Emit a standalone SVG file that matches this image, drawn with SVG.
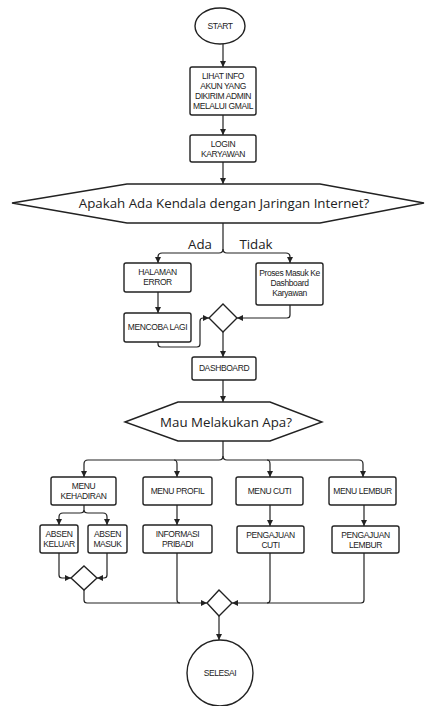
<svg xmlns="http://www.w3.org/2000/svg" width="425" height="706" viewBox="0 0 425 706">
<defs>
<marker id="arr" viewBox="0 0 10 10" refX="10" refY="5" markerWidth="6" markerHeight="6" markerUnits="userSpaceOnUse" orient="auto"><path d="M0,0 L10,5 L0,10 z" fill="#222"/></marker>
<style>
.b{fill:#fff;stroke:#222;stroke-width:1.4}
.t{font-family:"Liberation Sans",Arial,sans-serif;font-size:8.5px;fill:#222;text-anchor:middle;letter-spacing:-0.4px}
.d{font-family:"Open Sans","Noto Sans",sans-serif;font-size:13.3px;fill:#222;text-anchor:middle}
.c{fill:none;stroke:#222;stroke-width:1.2;marker-end:url(#arr)}
.n{fill:none;stroke:#222;stroke-width:1.2}
</style>
</defs>
<rect width="425" height="706" fill="#fff"/>
<g id="connectors">
<path class="c" d="M223,44 V67"/>
<path class="c" d="M223,115 V135"/>
<path class="c" d="M223,162 V184"/>
<path class="c" d="M223,223 V249 Q223,253 219,253 H162 Q158,253 158,257 V263"/>
<path class="c" d="M223,249 Q223,253 227,253 H286 Q290,253 290,257 V263"/>
<path class="c" d="M158,292 V313"/>
<path class="c" d="M158,342 V344 Q158,347 161,347 H197 Q200,347 200,344 V321 Q200,318 203,318 H209"/>
<path class="c" d="M290,305 V315 Q290,318 287,318 H237"/>
<path class="c" d="M223,332 V357"/>
<path class="c" d="M223,380 V402"/>
<path class="c" d="M223,441 V456 Q223,460 219,460 H88 Q84,460 84,464 V477"/>
<path class="c" d="M223,456 Q223,460 227,460 H359 Q363,460 363,464 V477"/>
<path class="c" d="M174,460 Q177,460 177,464 V477"/>
<path class="c" d="M267,460 Q270,460 270,464 V477"/>
<path class="c" d="M84,505 V510 Q84,513 80,513 H63 Q59,513 59,517 V525"/>
<path class="c" d="M84,510 Q84,513 88,513 H103 Q107,513 107,517 V525"/>
<path class="c" d="M177,505 V525"/>
<path class="c" d="M270,505 V526"/>
<path class="c" d="M364,505 V526"/>
<path class="c" d="M59,553 V575 Q59,578 62,578 H71"/>
<path class="c" d="M107,553 V575 Q107,578 104,578 H97"/>
<path class="c" d="M84,590 V600 Q84,603 87,603 H207"/>
<path class="n" d="M177,553 V600 Q177,603 180,603"/>
<path class="c" d="M270,553 V600 Q270,603 267,603 H232"/>
<path class="n" d="M364,553 V600 Q364,603 361,603 H267"/>
<path class="c" d="M219,616 V640"/>
</g>
<g id="start"><ellipse class="b" cx="220" cy="26" rx="25" ry="18"/><text class="t" x="220" y="29">START</text></g>
<g id="lihat"><rect class="b" x="190" y="67" width="66" height="48" rx="2"/><text class="t" x="223" y="79">LIHAT INFO</text><text class="t" x="223" y="89">AKUN YANG</text><text class="t" x="223" y="99">DIKIRIM ADMIN</text><text class="t" x="223" y="109">MELALUI GMAIL</text></g>
<g id="login"><rect class="b" x="190" y="135" width="66" height="27" rx="2"/><text class="t" x="223" y="147">LOGIN</text><text class="t" x="223" y="157">KARYAWAN</text></g>
<g id="kendala"><polygon class="b" points="12,203 127,184 320,184 424,203 320,223 127,223"/><text class="d" x="224" y="207.5">Apakah Ada Kendala dengan Jaringan Internet?</text></g>
<g id="labels"><text class="d" x="200" y="249">Ada</text><text class="d" x="256" y="249">Tidak</text></g>
<g id="error"><rect class="b" x="124" y="263" width="67" height="29" rx="2"/><text class="t" x="157.5" y="275">HALAMAN</text><text class="t" x="157.5" y="285">ERROR</text></g>
<g id="proses"><rect class="b" x="256" y="263" width="67" height="42" rx="2"/><text class="t" x="289.5" y="276">Proses Masuk Ke</text><text class="t" x="289.5" y="286">Dashboard</text><text class="t" x="289.5" y="296">Karyawan</text></g>
<g id="mencoba"><rect class="b" x="124" y="313" width="67" height="29" rx="2"/><text class="t" x="157.5" y="330">MENCOBA LAGI</text></g>
<g id="merge1"><polygon class="b" points="223,304 237,318 223,332 209,318"/></g>
<g id="dashboard"><rect class="b" x="192" y="357" width="64" height="23" rx="2"/><text class="t" x="224" y="371">DASHBOARD</text></g>
<g id="mau"><polygon class="b" points="125,422 178,402 270,402 322,422 270,441 178,441"/><text class="d" x="226" y="426.5">Mau Melakukan Apa?</text></g>
<g id="kehadiran"><rect class="b" x="51" y="477" width="65" height="28" rx="2"/><text class="t" x="83.5" y="489">MENU</text><text class="t" x="83.5" y="499">KEHADIRAN</text></g>
<g id="profil"><rect class="b" x="143" y="477" width="69" height="28" rx="2"/><text class="t" x="177.5" y="494">MENU PROFIL</text></g>
<g id="cuti"><rect class="b" x="236" y="477" width="67" height="28" rx="2"/><text class="t" x="269.5" y="494">MENU CUTI</text></g>
<g id="lembur"><rect class="b" x="329" y="477" width="67" height="28" rx="2"/><text class="t" x="362.5" y="494">MENU LEMBUR</text></g>
<g id="keluar"><rect class="b" x="40" y="525" width="38" height="28" rx="2"/><text class="t" x="59" y="537">ABSEN</text><text class="t" x="59" y="547">KELUAR</text></g>
<g id="masuk"><rect class="b" x="88" y="525" width="39" height="28" rx="2"/><text class="t" x="107.5" y="537">ABSEN</text><text class="t" x="107.5" y="547">MASUK</text></g>
<g id="informasi"><rect class="b" x="143" y="525" width="69" height="28" rx="2"/><text class="t" x="177.5" y="537">INFORMASI</text><text class="t" x="177.5" y="547">PRIBADI</text></g>
<g id="pcuti"><rect class="b" x="237" y="526" width="67" height="27" rx="2"/><text class="t" x="270.5" y="538">PENGAJUAN</text><text class="t" x="270.5" y="548">CUTI</text></g>
<g id="plembur"><rect class="b" x="332" y="526" width="67" height="27" rx="2"/><text class="t" x="365.5" y="538">PENGAJUAN</text><text class="t" x="365.5" y="548">LEMBUR</text></g>
<g id="merge2"><polygon class="b" points="84,566 97,578 84,590 71,578"/></g>
<g id="merge3"><polygon class="b" points="219,590 232,603 219,616 207,603"/></g>
<g id="selesai"><circle class="b" cx="220" cy="673" r="33"/><text class="t" x="220" y="676">SELESAI</text></g>
</svg>
